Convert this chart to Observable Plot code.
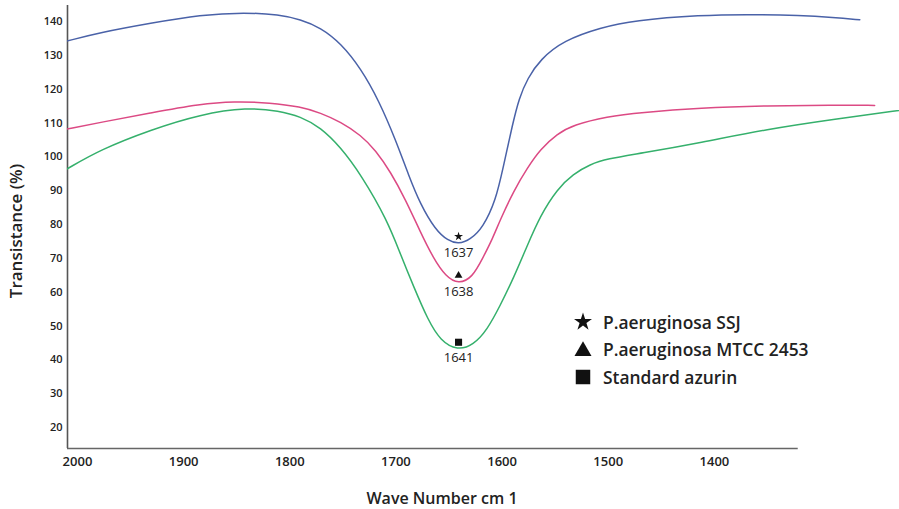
<!DOCTYPE html>
<html>
<head>
<meta charset="utf-8">
<script src="https://cdn.jsdelivr.net/npm/d3@7"></script>
<script src="https://cdn.jsdelivr.net/npm/@observablehq/plot@0.6"></script>
<style>
  html, body { margin: 0; padding: 0; background: #fff; }
  #wrap { position: relative; width: 899px; height: 509px; overflow: hidden; font-family: "Open Sans", sans-serif; color: #222; }
  #ytitle { position: absolute; left: 15px; top: 231px; transform: translate(-50%, -50%) rotate(-90deg); font-size: 17px; font-weight: 600; white-space: nowrap; color: #222; }
  #xtitle { position: absolute; left: 442px; top: 498px; transform: translate(-50%, -50%); font-size: 16px; font-weight: 600; white-space: nowrap; color: #222; }
  #legend { position: absolute; left: 572px; top: 308px; }
  .row { display: flex; align-items: center; height: 27.5px; font-size: 17.4px; font-weight: 600; color: #222; white-space: nowrap; }
  .row svg { width: 22px; height: 22px; margin-right: 9px; }
</style>
</head>
<body>
<div id="wrap">
  <div id="chart"></div>
  <div id="ytitle"></div>
  <div id="xtitle"></div>
  <div id="legend"></div>
</div>
<script>
// ---- data ----
const xTicks = [2000, 1900, 1800, 1700, 1600, 1500, 1400];
const yTicks = [20, 30, 40, 50, 60, 70, 80, 90, 100, 110, 120, 130, 140];
const seriesNames = ["P.aeruginosa SSJ", "P.aeruginosa MTCC 2453", "Standard azurin"];
const seriesSymbols = ["star", "triangle", "square"];
const yTitle = "Transistance (%)";
const xTitle = "Wave Number cm 1";

const ssjWave = [2010, 1978, 1931, 1884, 1842, 1810, 1790, 1771, 1752, 1733, 1716, 1700, 1688, 1677, 1663, 1651, 1641, 1630, 1618, 1606, 1599, 1590, 1584, 1576, 1564, 1542, 1507, 1476, 1413, 1366, 1319, 1288, 1263];
const ssjT    = [134.2, 136.8, 139.5, 142.0, 142.7, 142.0, 140.6, 138.2, 133.6, 126.1, 116.6, 104.8, 94.5, 86.0, 78.5, 75.2, 74.2, 75.5, 79.1, 87.1, 96.8, 109.8, 117.3, 123.2, 128.8, 134.4, 138.2, 140.3, 141.9, 142.1, 141.8, 141.2, 140.5];

const mtccWave = [2010, 1978, 1931, 1884, 1853, 1818, 1790, 1771, 1752, 1733, 1719, 1705, 1691, 1677, 1665, 1653, 1641, 1628, 1618, 1609, 1602, 1589, 1576, 1564, 1548, 1533, 1501, 1470, 1413, 1350, 1288, 1249];
const mtccT    = [108.2, 110.2, 113.0, 115.6, 116.4, 116.0, 114.8, 113.0, 110.3, 106.4, 101.9, 95.5, 87.4, 77.8, 70.2, 64.6, 62.4, 64.3, 70.2, 75.8, 81.2, 90.0, 96.8, 102.2, 106.8, 109.4, 111.9, 113.1, 114.5, 115.1, 115.3, 115.2];

const azurinWave = [2010, 1978, 1931, 1884, 1840, 1810, 1790, 1771, 1752, 1733, 1708, 1696, 1683, 1670, 1658, 1642, 1627, 1614, 1602, 1589, 1576, 1564, 1548, 1533, 1517, 1501, 1470, 1413, 1350, 1288, 1226, 1200];
const azurinT    = [96.4, 102.2, 108.0, 112.6, 114.6, 113.6, 111.9, 108.7, 102.8, 94.8, 81.2, 71.4, 61.4, 51.9, 45.6, 42.8, 44.4, 48.9, 55.9, 64.3, 74.0, 82.6, 90.5, 94.9, 97.8, 99.4, 101.0, 104.2, 108.2, 111.1, 113.7, 114.8];

const peakWave = [1641, 1641, 1641];
const peakT = [76.5, 64.9, 45.2];
const peakLabels = ["1637", "1638", "1641"];

// ---- build ----
const colors = ["#4a62a8", "#dc4a84", "#35b06c"];
const xDomain = [2009.4, 1225.6];
const yDomain = [13.8, 146.2];
const xAxisEnd = 1321;
const yAxisTop = 144.7;

const series = [
  ssjWave.map((w, i) => ({w, t: ssjT[i], s: seriesNames[0]})),
  mtccWave.map((w, i) => ({w, t: mtccT[i], s: seriesNames[1]})),
  azurinWave.map((w, i) => ({w, t: azurinT[i], s: seriesNames[2]}))
];
const peaks = peakWave.map((w, i) => ({w, t: peakT[i], label: peakLabels[i], sym: seriesSymbols[i]}));
const symR = {star: 2.8, triangle: 2.9, square: 4.0};

const chart = Plot.plot({
  width: 899,
  height: 509,
  marginLeft: 67,
  marginRight: 0,
  marginTop: 0,
  marginBottom: 61,
  style: {fontFamily: "Open Sans, sans-serif", background: "#fff", color: "#222"},
  x: {domain: xDomain},
  y: {domain: yDomain},
  marks: [
    Plot.axisY({ticks: yTicks, tickSize: 0, tickPadding: 5, fontSize: 11, fontWeight: 600, label: null, tickFormat: d => String(d)}),
    Plot.axisX({ticks: xTicks, tickSize: 0, tickPadding: 8, fontSize: 13, fontWeight: 600, label: null, tickFormat: d => String(d)}),
    Plot.ruleX([xDomain[0]], {y1: yDomain[0], y2: yAxisTop, stroke: "#555", strokeWidth: 1.6}),
    Plot.ruleY([yDomain[0]], {x1: xDomain[0], x2: xAxisEnd, stroke: "#666", strokeWidth: 1.6}),
    ...series.map((d, i) => Plot.line(d, {x: "w", y: "t", stroke: colors[i], strokeWidth: 1.5, curve: "basis", clip: true})),
    ...peaks.map(p => Plot.dot([p], {x: "w", y: "t", symbol: "sym", r: symR[p.sym], fill: "#111", stroke: null})),
    Plot.text(peaks, {x: "w", y: "t", text: "label", dy: 16, fontSize: 13, fill: "#222"})
  ]
});
document.getElementById("chart").appendChild(chart);

document.getElementById("ytitle").textContent = yTitle;
document.getElementById("xtitle").textContent = xTitle;

const legendSym = {star: d3.symbolStar, triangle: d3.symbolTriangle, square: d3.symbolSquare};
const legendSize = {star: 100, triangle: 125, square: 210};
const legend = d3.select("#legend");
seriesNames.forEach((name, i) => {
  const row = legend.append("div").attr("class", "row");
  const svg = row.append("svg").attr("viewBox", "-11 -11 22 22");
  const sym = seriesSymbols[i];
  svg.append("path")
    .attr("d", d3.symbol(legendSym[sym], legendSize[sym])())
    .attr("transform", sym === "triangle" ? "translate(0,2)" : null)
    .attr("fill", "#111");
  row.append("span").text(name);
});
</script>
</body>
</html>
